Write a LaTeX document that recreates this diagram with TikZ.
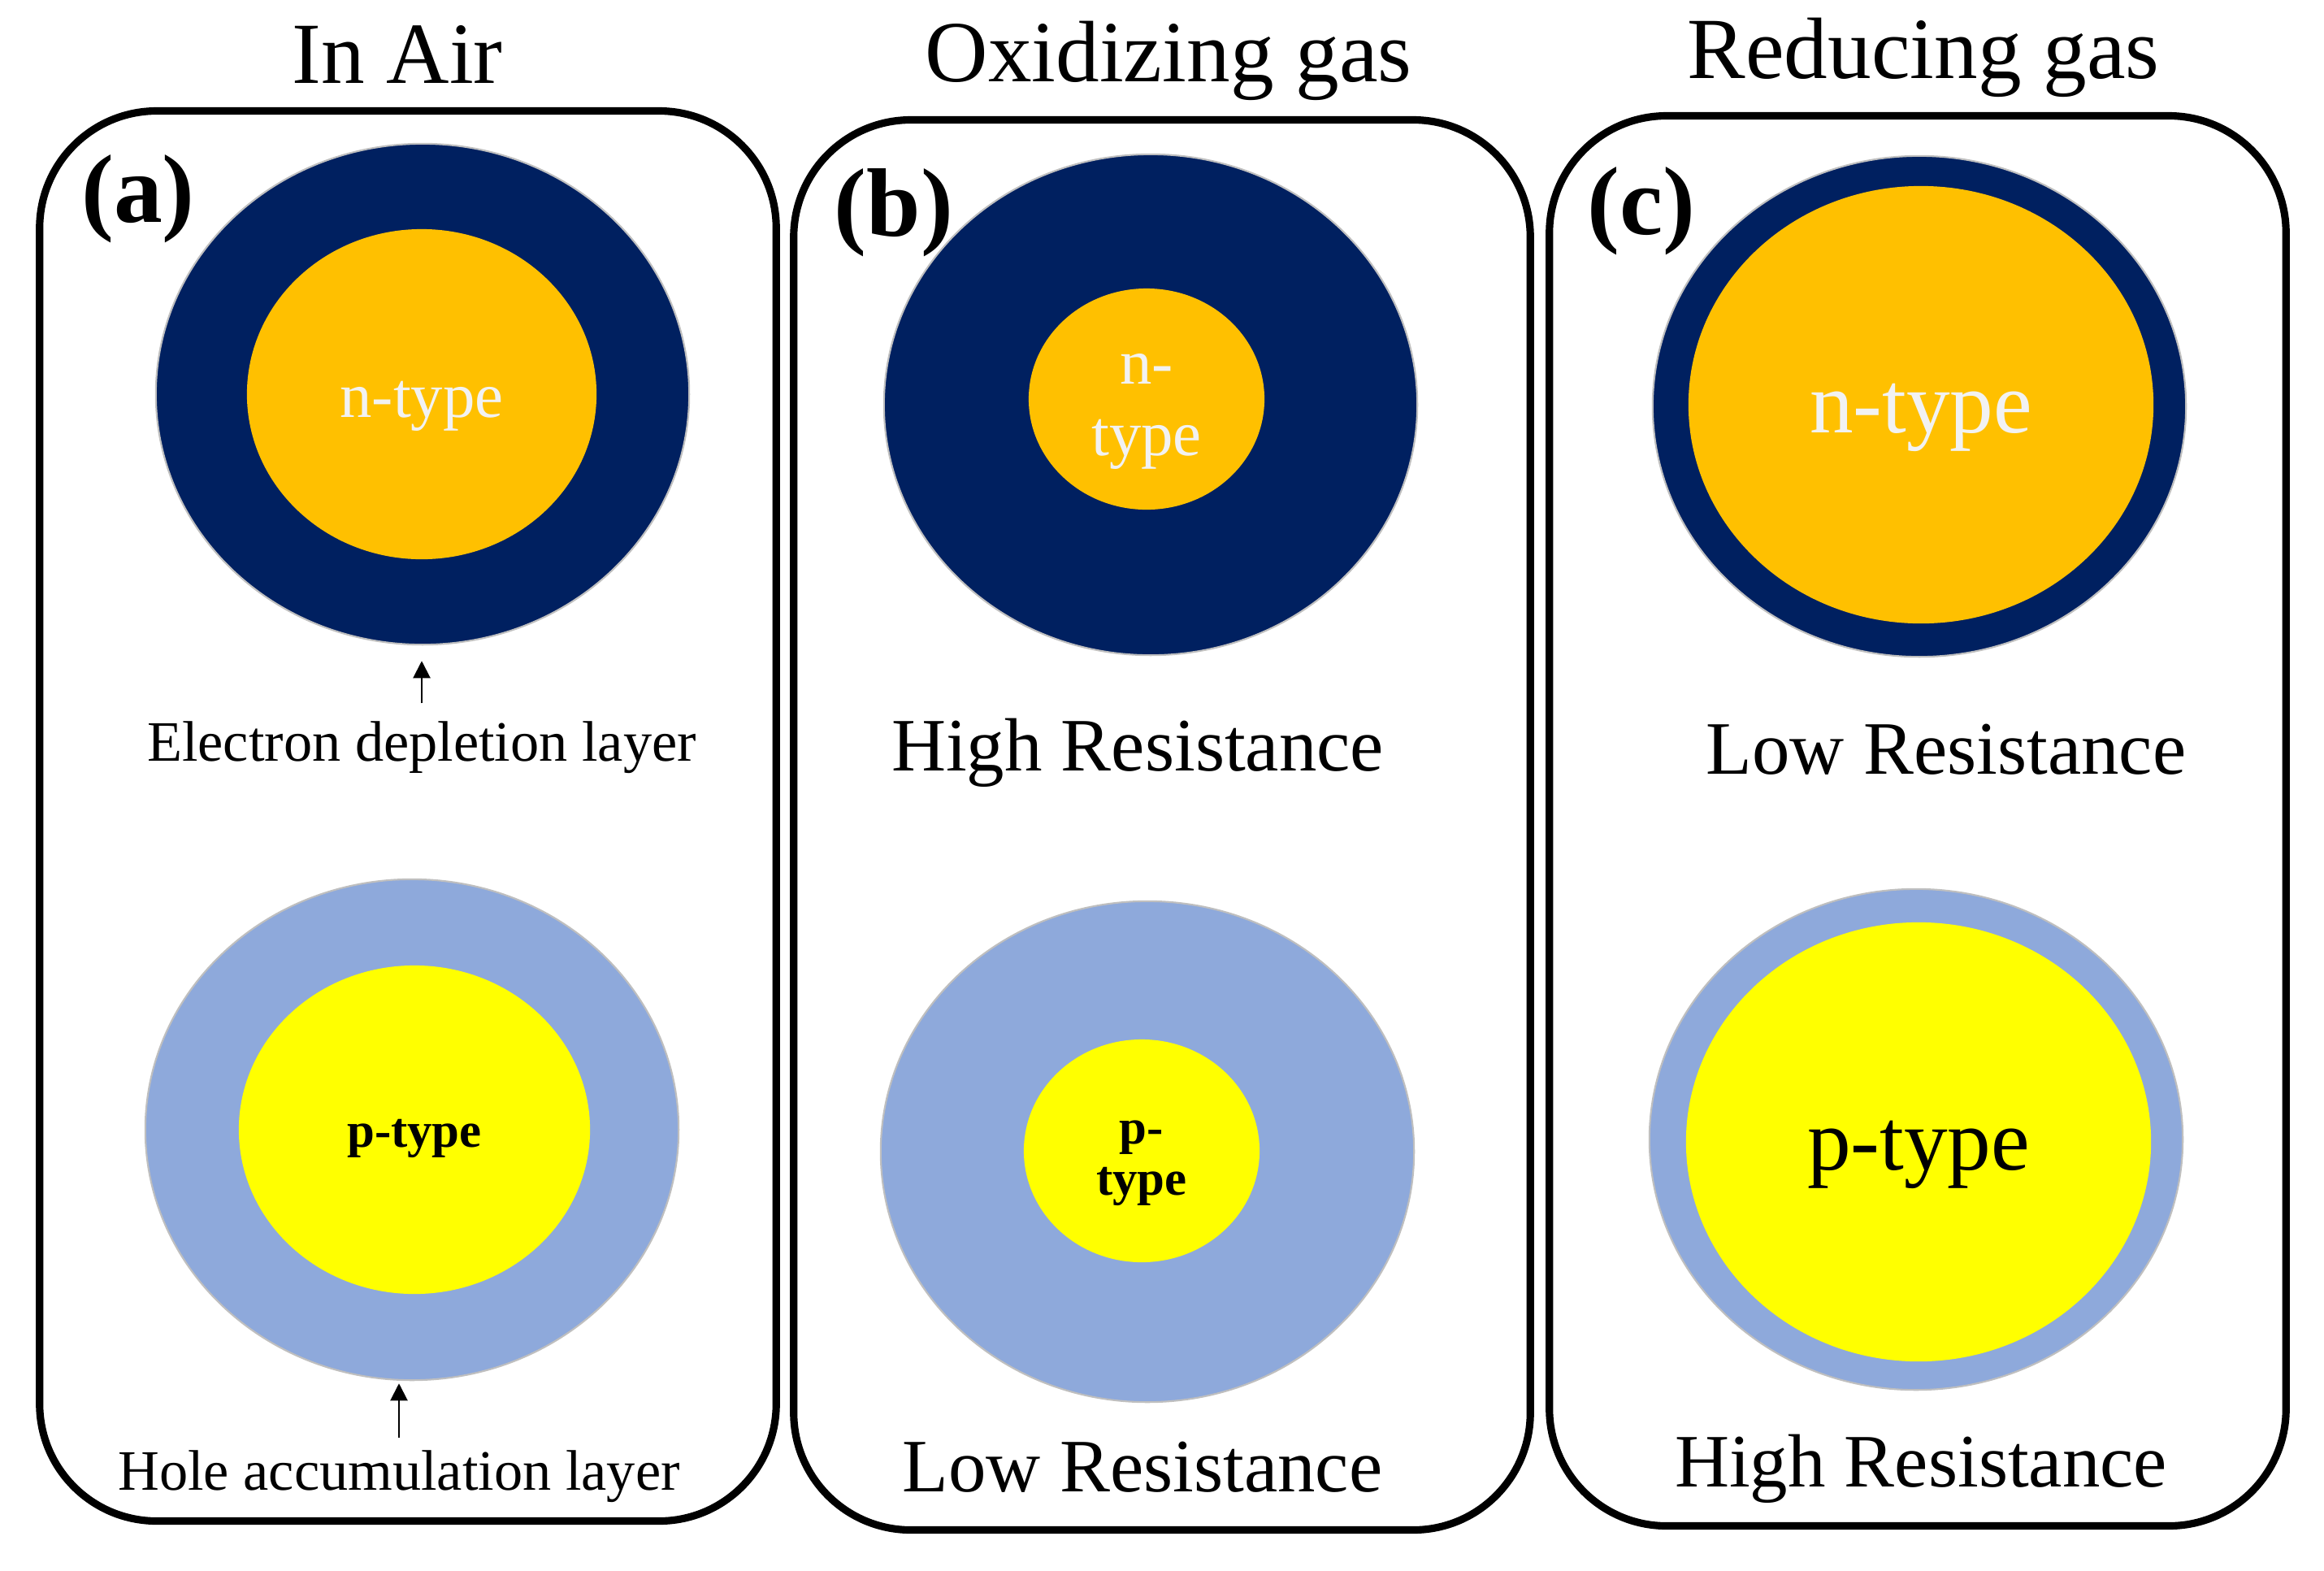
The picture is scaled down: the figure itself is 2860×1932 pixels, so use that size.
\documentclass[tikz,border=0pt]{standalone}
\usepackage{fontspec}
\setmainfont{Liberation Serif}
\usetikzlibrary{arrows.meta,positioning,shapes.geometric}

\definecolor{navy}{HTML}{002060}
\definecolor{amber}{HTML}{FFC000}
\definecolor{skyblue}{HTML}{8EA9DB}
\definecolor{lemon}{HTML}{FFFF00}
\definecolor{paper}{HTML}{F2F2F2}

\begin{document}
\begin{tikzpicture}[
  x=0.01cm, y=-0.01cm,
  >={Triangle[length=6pt,width=6pt]},
  panel/.style    = {draw, line width=2.6pt, rounded corners=41pt, minimum width=9.06cm, minimum height=17.34cm, inner sep=0pt},
  shell/.style    = {ellipse, draw=black!25, line width=0.6pt, minimum width=6.56cm, minimum height=6.16cm, inner sep=0pt},
  core/.style     = {ellipse, inner sep=0pt},
  coretxt/.style  = {inner sep=0pt, align=center},
  headtxt/.style  = {font=\fontsize{30.5}{36}\selectfont, anchor=base, inner sep=0pt},
  restxt/.style   = {font=\fontsize{26.4}{32}\selectfont, anchor=base, inner sep=0pt},
  layertxt/.style = {font=\fontsize{20}{24}\selectfont, anchor=base, inner sep=0pt},
  paneltag/.style = {font=\bfseries\fontsize{34}{40}\selectfont, inner sep=0pt},
  line/.style     = {->, line width=0.6pt}
]
\useasboundingbox (0,0) rectangle (2860,1932);

% Panels
\node[panel] (pa) at (502,1004)  {};
\node[panel] (pb) at (1430,1015) {};
\node[panel] (pc) at (2360,1010) {};

% Titles
\node[headtxt] (ha) at (489,102)  {In Air};
\node[headtxt] (hb) at (1438,100) {Oxidizing gas};
\node[headtxt] (hc) at (2367,96)  {Reducing gas};

% Tags
\node[paneltag] (ta) at (170,245)  {(a)};
\node[paneltag] (tb) at (1100,262) {(b)};
\node[paneltag] (tc) at (2020,260) {(c)};

% Shells
\node[shell, fill=navy]    (sAn) at (520,485)   {};
\node[shell, fill=navy]    (sBn) at (1416,498)  {};
\node[shell, fill=navy]    (sCn) at (2362,500)  {};
\node[shell, fill=skyblue] (sAp) at (507,1390)  {};
\node[shell, fill=skyblue] (sBp) at (1412,1417) {};
\node[shell, fill=skyblue] (sCp) at (2358,1402) {};

% Cores
\node[core, fill=amber, minimum width=4.30cm, minimum height=4.06cm] (cAn) at (519,485)   {};
\node[core, fill=amber, minimum width=2.90cm, minimum height=2.72cm] (cBn) at (1411,491)  {};
\node[core, fill=amber, minimum width=5.72cm, minimum height=5.38cm] (cCn) at (2364,498)  {};
\node[core, fill=lemon, minimum width=4.32cm, minimum height=4.04cm] (cAp) at (510,1390)  {};
\node[core, fill=lemon, minimum width=2.90cm, minimum height=2.74cm] (cBp) at (1405,1416) {};
\node[core, fill=lemon, minimum width=5.72cm, minimum height=5.40cm] (cCp) at (2361,1405) {};

% Core texts
\node[coretxt, text=paper, font=\fontsize{22.4}{25}\selectfont] (xAn) at ([yshift=-0.15cm]cAn.center) {n-type};
\node[coretxt, text=paper, font=\fontsize{22.4}{25}\selectfont] (xBn) at ([yshift=-0.15cm]cBn.center) {n-\\type};
\node[coretxt, text=paper, font=\fontsize{30.5}{36}\selectfont] (xCn) at ([yshift=-0.16cm]cCn.center) {n-type};
\node[coretxt, font=\bfseries\fontsize{17.3}{18}\selectfont]    (xAp) at ([yshift=-0.11cm]cAp.center) {p-type};
\node[coretxt, font=\bfseries\fontsize{17.3}{18}\selectfont]    (xBp) at ([yshift=-0.15cm]cBp.center) {p-\\type};
\node[coretxt, font=\fontsize{30.5}{36}\selectfont]             (xCp) at ([yshift=-0.16cm]cCp.center) {p-type};

% Layer notes
\node[layertxt] (elab) at (519,936)  {Electron depletion layer};
\node[layertxt] (hlab) at (491,1833) {Hole accumulation layer};
\draw[line, shorten <=10\pgflinewidth, shorten >=0.19cm] (elab.north) -- (elab.north |- sAn.south);
\draw[line, shorten <=0.15cm, shorten >=0.03cm] (hlab.north) -- (hlab.north |- sAp.south);

% Resistance
\node[restxt] (rBn) at (1400,948)  {High Resistance};
\node[restxt] (rCn) at (2395,952)  {Low Resistance};
\node[restxt] (rBp) at (1406,1835) {Low Resistance};
\node[restxt] (rCp) at (2364,1829) {High Resistance};

\end{tikzpicture}
\end{document}
